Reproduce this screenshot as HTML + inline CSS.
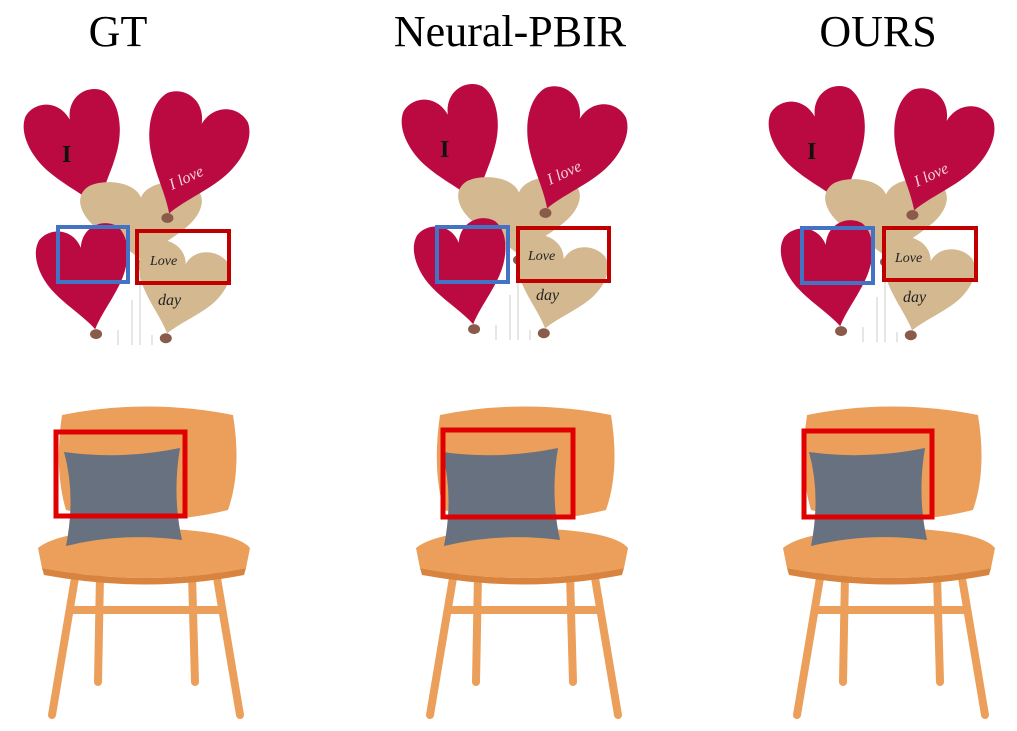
<!DOCTYPE html>
<html><head><meta charset="utf-8">
<style>
html,body{margin:0;padding:0;background:#fff;}
svg{display:block;}
text{font-family:"Liberation Serif",serif;}
</style></head>
<body>
<svg id="fig" width="1017" height="731" viewBox="0 0 1017 731" xmlns="http://www.w3.org/2000/svg">
<rect width="1017" height="731" fill="#fff"/>
<text x="118" y="46" font-size="44" text-anchor="middle" fill="#000">GT</text>
<text x="510" y="46" font-size="44" text-anchor="middle" fill="#000">Neural-PBIR</text>
<text x="878" y="46" font-size="44" text-anchor="middle" fill="#000">OURS</text>
</svg>
<script>
const cols = [
  {name:'gt', dx:0, dy:0, blue:[58,227,70,55], red:[137,231,92,52], box:[56,432,129,84]},
  {name:'neural-pbir', dx:378, dy:-5, blue:[437,227,71,55], red:[518,228,91,53], box:[443,430,130,87]},
  {name:'ours', dx:745, dy:-3, blue:[802,228,71,55], red:[884,228,92,52], box:[804,431,128,86]}
];
const NS='http://www.w3.org/2000/svg';
const svg=document.getElementById('fig');
function el(tag,attrs,parent){const e=document.createElementNS(NS,tag);for(const k in attrs)e.setAttribute(k,attrs[k]);(parent||svg).appendChild(e);return e;}
// heart in unit box, tip at (0.5,1)
const heartD='M0.5,0.22 C0.55,0.02 0.8,-0.02 0.93,0.08 C1.05,0.2 1.0,0.42 0.88,0.58 C0.76,0.74 0.6,0.86 0.5,1 C0.4,0.86 0.24,0.74 0.12,0.58 C0,0.42 -0.05,0.2 0.07,0.08 C0.2,-0.02 0.45,0.02 0.5,0.22 Z';
function heart(g,x,y,w,h,rot,fill,name){
  const cx=x+w/2, cy=y+h/2;
  const p=el('path',{d:heartD,fill:fill,transform:`rotate(${rot} ${cx} ${cy}) translate(${x},${y}) scale(${w},${h})`},g);
  
  
  const a=rot*Math.PI/180, tx=0, ty=h/2+5;
  el('ellipse',{cx:cx-Math.sin(a)*ty,cy:cy+Math.cos(a)*ty,rx:6,ry:5,fill:'#8a5a4a'},g);
}
cols.forEach(c=>{
  const g=el('g',{transform:`translate(${c.dx},${c.dy})`});
  
  
  el('path',{d:'M118,330 L118,345 M152,335 L152,345 M140,250 L140,345 M132,300 L132,345',stroke:'#ccc','stroke-width':1,fill:'none'},g);
  heart(g,32,92,96,118,-18,'#bb0a42','balloon-red-top-left');
  heart(g,80,180,122,80,0,'#d3b890','balloon-beige-middle');
  heart(g,140,95,100,122,20,'#bb0a42','balloon-red-top-right');
  heart(g,133,243,92,92,15,'#d3b890','balloon-beige-lower');
  heart(g,40,224,92,106,-10,'#bb0a42','balloon-red-lower');
  el('text',{x:62,y:162,'font-size':24,'font-weight':'bold',fill:'#111'},g).textContent='I';
  el('text',{x:172,y:190,'font-size':16,'font-style':'italic',fill:'#f3d0dc',transform:'rotate(-25 172 190)'},g).textContent='I love';
  el('text',{x:150,y:265,'font-size':14,'font-style':'italic',fill:'#222'},g).textContent='Love';
  el('text',{x:158,y:305,'font-size':16,'font-style':'italic',fill:'#222'},g).textContent='day';
  // chair
  const ch=el('g',{transform:`translate(${c.dx},0)`});
  
  
  const wood='#eb9f5a', dark='#d8843e';
  el('path',{d:'M70,610 L220,610',stroke:wood,'stroke-width':8},ch);
  el('path',{d:'M76,572 L52,715 M216,572 L240,715 M100,575 L98,682 M192,575 L195,682',stroke:wood,'stroke-width':8,'stroke-linecap':'round'},ch);
  el('path',{d:'M62,415 Q147,398 233,415 Q242,470 228,510 Q147,530 66,510 Q54,470 62,415 Z',fill:wood},ch);
  el('path',{d:'M38,548 Q60,530 147,528 Q235,530 250,548 L246,568 Q147,588 42,568 Z',fill:wood},ch);
  el('path',{d:'M42,568 Q147,588 246,568 L244,575 Q147,594 44,575 Z',fill:dark},ch);
  const pil=el('path',{d:'M64,452 Q122,460 180,448 Q172,495 182,540 Q122,532 66,546 Q76,495 64,452 Z',fill:'#67717f'},ch);
  
  
  const b=el('rect',{x:c.blue[0],y:c.blue[1],width:c.blue[2],height:c.blue[3],fill:'none',stroke:'#4472c4','stroke-width':4});
  
  
  const r=el('rect',{x:c.red[0],y:c.red[1],width:c.red[2],height:c.red[3],fill:'none',stroke:'#c00000','stroke-width':4});
  
  
  const cb=el('rect',{x:c.box[0],y:c.box[1],width:c.box[2],height:c.box[3],fill:'none',stroke:'#e00000','stroke-width':5});
  
  
});
</script>
</body></html>
